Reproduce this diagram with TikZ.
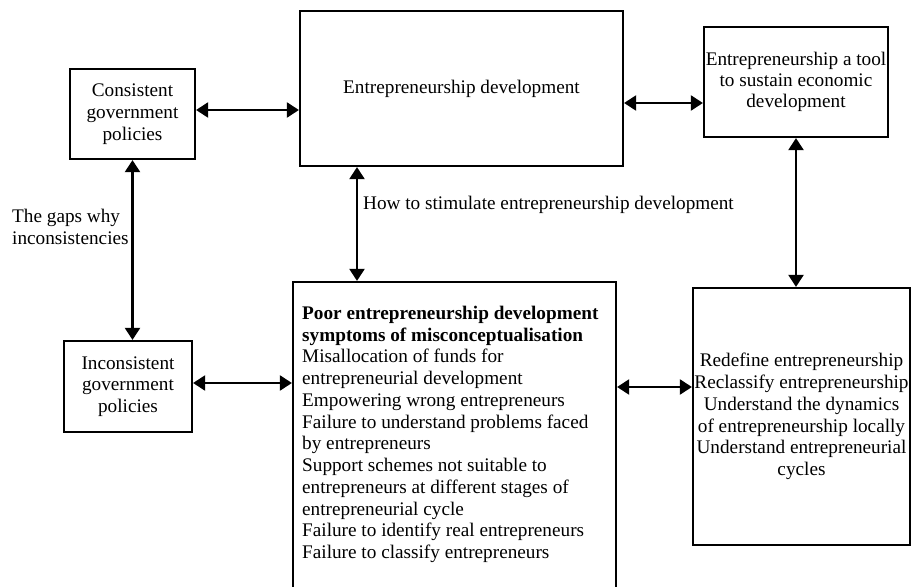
\documentclass[tikz,border=0pt]{standalone}
\usepackage{fontspec}
\setmainfont{Liberation Serif}
\usetikzlibrary{arrows.meta}
\newcommand{\fsz}{\fontsize{19.3}{21.8}\selectfont}
\begin{document}
\begin{tikzpicture}[x=1bp,y=-1bp,
  box/.style={draw, line width=2.2bp, inner sep=0pt, align=center, font=\fsz},
  link/.style={line width=2.2bp, {Triangle[length=12bp,width=15bp]}-{Triangle[length=12bp,width=15bp]}},
  lbl/.style={inner sep=0pt, font=\fsz}]
\useasboundingbox[fill=white] (0,0) rectangle (911,587);
\begin{scope}
\clip (0,0) rectangle (911,587);
\node[box, minimum width=125bp, minimum height=90bp] (cons) at (132.5,114) {Consistent\\government\\policies};
\node[box, minimum width=323bp, minimum height=155bp] (entdev) at (461.5,88.5) {Entrepreneurship development};
\node[box, minimum width=184bp, minimum height=110bp, font=\fontsize{19.3}{20.8}\selectfont] (tool) at (796,82) {Entrepreneurship a tool\\to sustain economic\\development};
\node[box, minimum width=128bp, minimum height=91bp] (incons) at (128,386.5) {Inconsistent\\government\\policies};
\node[box, minimum width=323bp, minimum height=318bp] (poor) at (454.5,441) {};
\node[box, minimum width=217bp, minimum height=257bp] (right) at (801.5,416.5) {Redefine entrepreneurship\\Reclassify entrepreneurship\\Understand the dynamics\\of entrepreneurship locally\\Understand entrepreneurial\\cycles};
\end{scope}
\node[lbl, anchor=north west, align=left] (poortext) at (302,306) {\textbf{Poor entrepreneurship development}\\\textbf{symptoms of misconceptualisation}\\Misallocation of funds for\\entrepreneurial development\\Empowering wrong entrepreneurs\\Failure to understand problems faced\\by entrepreneurs\\Support schemes not suitable to\\entrepreneurs at different stages of\\entrepreneurial cycle\\Failure to identify real entrepreneurs\\Failure to classify entrepreneurs};
\node[lbl, anchor=west, align=left] (gaps) at (12,227) {The gaps why\\inconsistencies};
\node[lbl, anchor=west] (how) at (363,205) {How to stimulate entrepreneurship development};
\coordinate (ya) at (0,110);
\coordinate (yb) at (0,103);
\coordinate (xc) at (357,0);
\coordinate (yd) at (0,383);
\coordinate (ye) at (0,387);
\draw[link] (cons.east |- ya) -- (entdev.west |- ya);
\draw[link] (entdev.east |- yb) -- (tool.west |- yb);
\draw[link] (cons.south) -- (cons.south |- incons.north);
\draw[link] (xc |- entdev.south) -- (xc |- poor.north);
\draw[link] (incons.east |- yd) -- (poor.west |- yd);
\draw[link] (poor.east |- ye) -- (right.west |- ye);
\draw[link] (tool.south) -- (tool.south |- right.north);
\end{tikzpicture}
\end{document}
